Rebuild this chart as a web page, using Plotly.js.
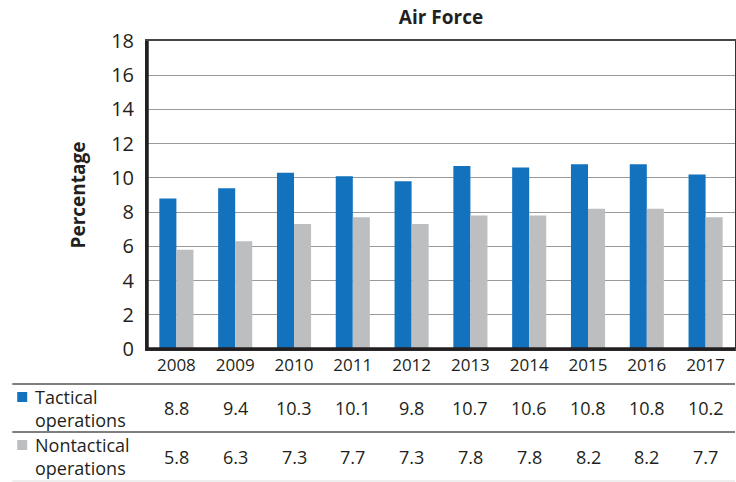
<!DOCTYPE html>
<html>
<head>
<meta charset="utf-8">
<script src="https://cdn.plot.ly/plotly-3.0.1.min.js"></script>
<style>
  body { margin: 0; background: #fff; }
  #chart { width: 736px; height: 482px; }
</style>
</head>
<body>
<div id="chart"></div>
<script>
var years = ['2008', '2009', '2010', '2011', '2012', '2013', '2014', '2015', '2016', '2017'];
var tactical = [8.8, 9.4, 10.3, 10.1, 9.8, 10.7, 10.6, 10.8, 10.8, 10.2];
var nontactical = [5.8, 6.3, 7.3, 7.7, 7.3, 7.8, 7.8, 8.2, 8.2, 7.7];
var seriesNames = ['Tactical<br>operations', 'Nontactical<br>operations'];
var seriesColors = ['#1272bd', '#bcbec0'];

var font = 'Open Sans, Noto Sans, sans-serif';
var ink = '#231f20';

// position index for each year on a linear axis
var pos = years.map(function (y, i) { return i; });

var data = [
    {x: pos, y: tactical, type: 'bar', name: 'Tactical operations', marker: {color: seriesColors[0]}},
    {x: pos, y: nontactical, type: 'bar', name: 'Nontactical operations', marker: {color: seriesColors[1]}}
];

// table rows under the chart (paper coords)
var rowY = [-0.1916, -0.3506];
var rowVals = [tactical, nontactical];
var annotations = [];
var shapes = [];

rowVals.forEach(function (vals, r) {
    vals.forEach(function (v, i) {
        annotations.push({
            x: pos[i], xref: 'x', y: rowY[r], yref: 'paper',
            text: v.toFixed(1), showarrow: false,
            font: {family: font, size: 18, color: ink},
            xanchor: 'center', yanchor: 'middle'
        });
    });
    annotations.push({
        x: -0.1935, xref: 'paper', y: rowY[r], yref: 'paper',
        text: seriesNames[r], showarrow: false, align: 'left',
        font: {family: font, size: 18, color: ink},
        xanchor: 'left', yanchor: 'middle'
    });
});

// legend squares
shapes.push({type: 'rect', xref: 'paper', yref: 'paper', x0: -0.2207, x1: -0.2037, y0: -0.1396, y1: -0.1721,
    fillcolor: seriesColors[0], line: {width: 0}});
shapes.push({type: 'rect', xref: 'paper', yref: 'paper', x0: -0.2207, x1: -0.2037, y0: -0.2955, y1: -0.3279,
    fillcolor: seriesColors[1], line: {width: 0}});

// table rules
[-0.1136, -0.2695].forEach(function (y) {
    shapes.push({type: 'line', xref: 'paper', yref: 'paper', x0: -0.2292, x1: 1, y0: y, y1: y,
        line: {color: '#555', width: 1.5}});
});
shapes.push({type: 'line', xref: 'paper', yref: 'paper', x0: -0.2292, x1: 1, y0: -0.4286, y1: -0.4286,
    line: {color: '#ddd', width: 1}});

// heavier left and bottom axis lines
shapes.push({type: 'line', xref: 'paper', yref: 'paper', x0: 0, x1: 0, y0: -0.005, y1: 1.0,
    line: {color: ink, width: 3.5}});
shapes.push({type: 'line', xref: 'paper', yref: 'paper', x0: 0, x1: 1, y0: 0, y1: 0,
    line: {color: ink, width: 3.5}});

var layout = {
    width: 736, height: 482,
    margin: {l: 147, r: 1, t: 41, b: 133},
    paper_bgcolor: '#fff', plot_bgcolor: '#fff',
    showlegend: false,
    barmode: 'group', bargap: 0.42, bargroupgap: 0,
    title: {text: '<b>Air Force</b>', x: 0.5, xref: 'paper', y: 0.965, yanchor: 'middle',
        font: {family: font, size: 19, color: ink}},
    xaxis: {
        range: [-0.5, years.length - 0.5], tickvals: pos, ticktext: years,
        showgrid: false, zeroline: false,
        showline: true, mirror: true, linecolor: '#444', linewidth: 2,
        ticks: '', tickfont: {family: font, size: 17, color: ink}
    },
    yaxis: {
        range: [0, 18], dtick: 2, showgrid: true, gridcolor: '#9a9a9a', gridwidth: 1,
        zeroline: false, showline: true, mirror: true, linecolor: '#333', linewidth: 2,
        ticks: '', ticklabelstandoff: 7,
        tickfont: {family: font, size: 20, color: ink},
        title: {text: '<b>Percentage</b>', standoff: 20, font: {family: font, size: 19, color: ink}}
    },
    annotations: annotations,
    shapes: shapes
};

Plotly.newPlot('chart', data, layout, {displayModeBar: false, staticPlot: true});
</script>
</body>
</html>
